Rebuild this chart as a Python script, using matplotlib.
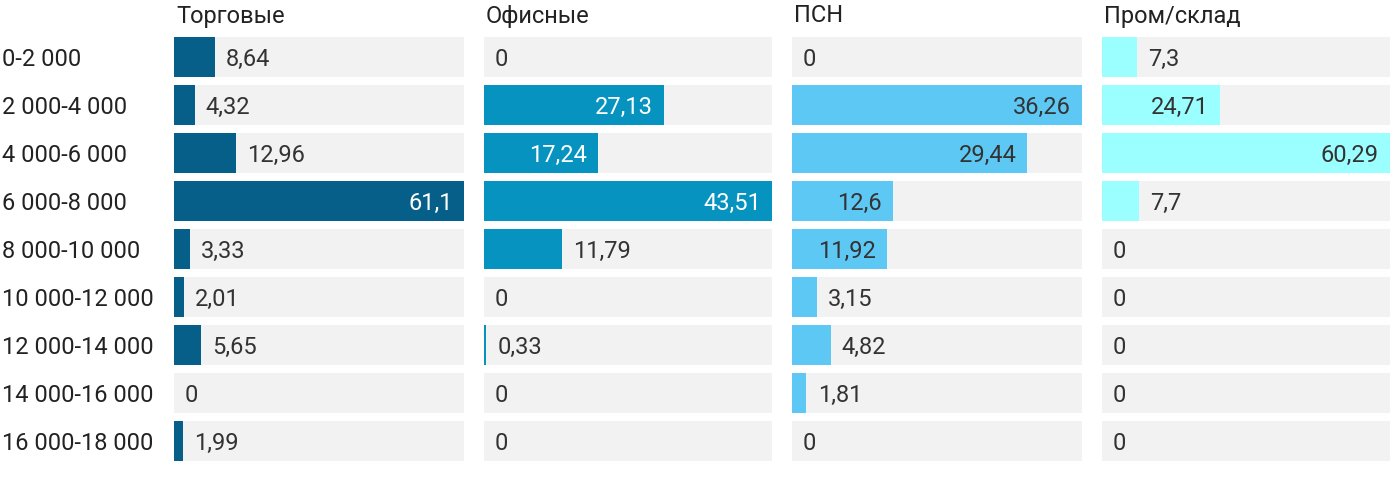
import matplotlib.pyplot as plt

plt.rcParams['font.family'] = ['Roboto', 'DejaVu Sans']

ranges = ['0-2 000', '2 000-4 000', '4 000-6 000', '6 000-8 000', '8 000-10 000',
          '10 000-12 000', '12 000-14 000', '14 000-16 000', '16 000-18 000']
titles = ['Торговые', 'Офисные', 'ПСН', 'Пром/склад']
trade = [8.64, 4.32, 12.96, 61.1, 3.33, 2.01, 5.65, 0, 1.99]
office = [0, 27.13, 17.24, 43.51, 11.79, 0, 0.33, 0, 0]
psn = [0, 36.26, 29.44, 12.6, 11.92, 3.15, 4.82, 1.81, 0]
storage = [7.3, 24.71, 60.29, 7.7, 0, 0, 0, 0, 0]
series = [trade, office, psn, storage]

colors = ['#055f88', '#0793bf', '#5ec8f5', '#9cffff']
inside_text = ['white', 'white', '#333333', '#333333']
W, H = 1400, 478
lefts = [174, 484, 792, 1102]
widths = [290, 288, 290, 288]
top, bottom = 33, 465

fig = plt.figure(figsize=(W / 100, H / 100), dpi=100)
fs = 17

def fmt(v):
    s = ('%.2f' % v).rstrip('0').rstrip('.')
    return s.replace('.', ',')

for k, vals in enumerate(series):
    ax = fig.add_axes([lefts[k] / W, 1 - bottom / H, widths[k] / W, (bottom - top) / H])
    vmax = max(vals)
    y = range(len(vals))
    ax.barh(y, [vmax] * len(vals), height=0.833, color='#f2f2f2', zorder=1)
    ax.barh(y, vals, height=0.833, color=colors[k], zorder=2)
    for i, v in enumerate(vals):
        if v / vmax > 0.3:
            ax.annotate(fmt(v), (v, i), xytext=(-8, -1.5), textcoords='offset points',
                        ha='right', va='center', fontsize=fs, color=inside_text[k], zorder=3)
        else:
            ax.annotate(fmt(v), (v, i), xytext=(8, -1.5), textcoords='offset points',
                        ha='left', va='center', fontsize=fs, color='#333333', zorder=3)
    ax.set_xlim(0, vmax)
    ax.set_ylim(len(vals) - 0.5, -0.5)
    ax.axis('off')
    fig.text((lefts[k] + 2) / W, 1 - 16 / H, titles[k], ha='left', va='center',
             fontsize=fs, color='#222222')

for i, r in enumerate(ranges):
    fig.text(2 / W, 1 - (59 + 48 * i) / H, r, ha='left', va='center',
             fontsize=fs, color='#222222')

fig.savefig('out.png', dpi=100, facecolor='white')
